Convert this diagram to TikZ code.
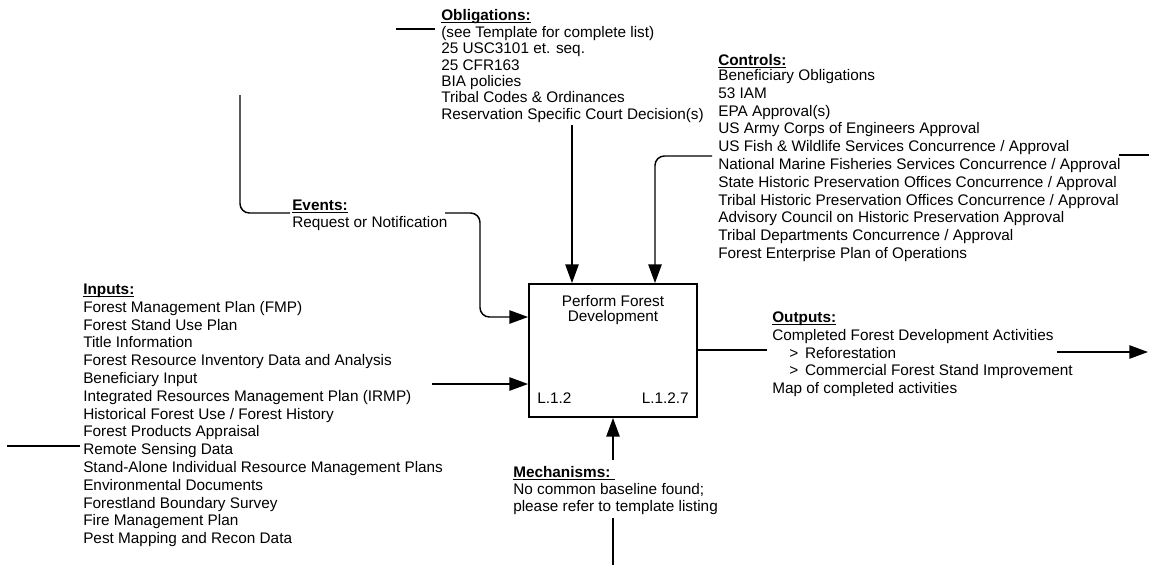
\documentclass[tikz,border=0pt]{standalone}
\usepackage{fontspec}
\setmainfont{Liberation Sans}
\usetikzlibrary{arrows.meta}
% bold heading with a rule set just below the baseline
\newcommand{\blockhead}[1]{\setbox0\hbox{\textbf{#1}}\rlap{\rule[-2pt]{\wd0}{0.9pt}}\box0}
\begin{document}
\begin{tikzpicture}[x=0.75pt,y=-0.75pt,
  txt/.style={anchor=base west, inner sep=0pt, font=\fontsize{11.5}{13.8}\selectfont},
  wire/.style={line width=1.1pt},
  feed/.style={wire, -{Triangle[length=14pt,width=10pt]}},
  softturn/.style={rounded corners=7pt},
  procbox/.style={draw, line width=1.4pt, minimum width=126pt, minimum height=99.75pt, inner sep=0pt}
]
\useasboundingbox (0,0) rectangle (1149,565);

% ---- activity box ----
\node[procbox] (pfd) at (613,350.5) {};
\node[font=\fontsize{11.5}{11.25}\selectfont, align=center, inner sep=0pt] (pfdtitle) at (613,310) {Perform Forest\\Development};
\node[txt] (nodeid) at (537,403.5) {L.1.2};
\node[txt, anchor=base east] (modelid) at (689,403.5) {L.1.2.7};

% ---- obligations ----
\node[txt] (oblh) at (441,20.5) {\blockhead{Obligations:}};
\foreach \t [count=\i] in {(see Template for complete list), 25 USC3101 et. seq., 25 CFR163, BIA policies, Tribal Codes \& Ordinances, Reservation Specific Court Decision(s)}
  \node[txt] (obl\i) at (441,{37.5+16.3*(\i-1)}) {\t};

% ---- controls ----
\node[txt] (ctlh) at (718,65.5) {\blockhead{Controls:}};
\foreach \t [count=\i] in {Beneficiary Obligations, 53 IAM, EPA Approval(s), US Army Corps of Engineers Approval, US Fish \& Wildlife Services Concurrence / Approval, National Marine Fisheries Services Concurrence / Approval, State Historic Preservation Offices Concurrence / Approval, Tribal Historic Preservation Offices Concurrence / Approval, Advisory Council on Historic Preservation Approval, Tribal Departments Concurrence / Approval, Forest Enterprise Plan of Operations}
  \node[txt] (ctl\i) at (718,{80.5+17.8*(\i-1)}) {\t};

% ---- events ----
\node[txt] (evth) at (292,210.5) {\blockhead{Events:}};
\node[txt] (evt1) at (292,227.5) {Request or Notification};

% ---- inputs ----
\node[txt] (inh) at (83,294.5) {\blockhead{Inputs:}};
\foreach \t [count=\i] in {Forest Management Plan (FMP), Forest Stand Use Plan, Title Information, Forest Resource Inventory Data and Analysis, Beneficiary Input, Integrated Resources Management Plan (IRMP), Historical Forest Use / Forest History, Forest Products Appraisal, Remote Sensing Data, Stand-Alone Individual Resource Management Plans, Environmental Documents, Forestland Boundary Survey, Fire Management Plan, Pest Mapping and Recon Data}
  \node[txt] (in\i) at (83,{312.3+17.8*(\i-1)}) {\t};

% ---- outputs ----
\node[txt] (outh) at (772,322.5) {\blockhead{Outputs:}};
\node[txt] (out1) at (772,340.5) {Completed Forest Development Activities};
\node[txt] (out2) at (772,358) {\hspace*{12.75pt}> \,Reforestation};
\node[txt] (out3) at (772,375.5) {\hspace*{12.75pt}> \,Commercial Forest Stand Improvement};
\node[txt] (out4) at (772,393) {Map of completed activities};

% ---- mechanisms ----
\node[txt] (mechh) at (513,477.5) {\blockhead{Mechanisms:\ }};
\node[txt] (mech1) at (513,494) {No common baseline found;};
\node[txt] (mech2) at (513,511) {please refer to template listing};

% ---- free ends of the connectors ----
\coordinate (oblstubA) at (396,29);
\coordinate (oblstubB) at (435,29);
\coordinate (oblsrc) at (572,125);
\coordinate (ctlsrc) at (712,156);
\coordinate (ctlturn) at (655,156);
\coordinate (ctlstubA) at (1119,155);
\coordinate (ctlstubB) at (1149,155);
\coordinate (evtsrc) at (240,95);
\coordinate (evtcornerA) at (240,213);
\coordinate (evtinA) at (290,213);
\coordinate (evtoutA) at (445,213);
\coordinate (evtcornerB) at (480,213);
\coordinate (evtcornerC) at (480,317);
\coordinate (insrc) at (432,384);
\coordinate (rsA) at (7,446);
\coordinate (rsB) at (80,446);
\coordinate (mechsrc) at (613,460);
\coordinate (mechlowA) at (613,518);
\coordinate (mechlowB) at (613,565);
\coordinate (outend) at (767,350);
\coordinate (outarrA) at (1057,352);
\coordinate (outarrB) at (1148,352);

% ---- connectors ----
\draw[wire] (oblstubA) -- (oblstubB);
\draw[feed] (oblsrc) -- (oblsrc |- pfd.north);
\draw[feed, softturn] (ctlsrc) -- (ctlturn) -- (ctlturn |- pfd.north);
\draw[wire] (ctlstubA) -- (ctlstubB);
\draw[wire, softturn] (evtsrc) -- (evtcornerA) -- (evtinA);
\draw[feed, softturn] (evtoutA) -- (evtcornerB) -- (evtcornerC) -- (evtcornerC -| pfd.west);
\draw[feed] (insrc) -- (insrc -| pfd.west);
\draw[wire] (rsA) -- (rsB);
\draw[feed] (mechsrc) -- (pfd.south);
\draw[wire] (mechlowA) -- (mechlowB);
\draw[wire] (pfd.east |- outend) -- (outend);
\draw[feed] (outarrA) -- (outarrB);
\end{tikzpicture}
\end{document}
